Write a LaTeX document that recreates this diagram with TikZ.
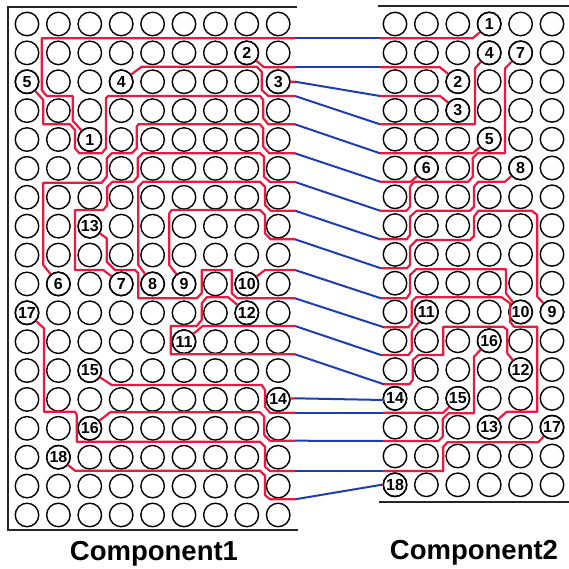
\documentclass[tikz,border=0pt]{standalone}
\usepackage{fontspec}
\setmainfont{Liberation Sans}
\definecolor{trace red}{HTML}{E9193F}
\definecolor{wire blue}{HTML}{1E3DB2}
\colorlet{frame edge}{black!85}
\tikzset{
  pad/.style={circle, draw=black, line width=1.4pt, minimum size=23.5pt, inner sep=0pt, outer sep=0.5pt},
  padnum/.style={pad, font=\fontsize{16}{16}\selectfont\bfseries},
  trace/.style={draw=trace red, line width=2.2pt, line join=round},
  wire/.style={draw=wire blue, line width=2pt},
  frame/.style={draw=frame edge, line width=1.8pt},
  title/.style={font=\fontsize{27.5}{27.5}\selectfont\bfseries}
}

\begin{document}
\begin{tikzpicture}[x=1pt, y=-1pt]
  \path[use as bounding box] (0,0) rectangle (569,569);
  % boxes
  \draw[frame] (297,7) -- (8,7) -- (8,530) -- (298,530);
  \draw[frame] (378,6) -- (569,6);
  \draw[frame] (379,502) -- (569,502);
  \node[title] (comp1) at (154,554) {Component1};
  \node[title] (comp2) at (474,553) {Component2};
  % pad grids
  \foreach \col in {0,...,8}
    \foreach \row in {0,...,17}
      \node[pad] (lgrid-\col-\row) at ({27+31.4*\col},{24+28.88*\row}) {};
  \foreach \col in {0,...,5}
    \foreach \row in {0,...,16}
      \node[pad] (rgrid-\col-\row) at ({395+31.4*\col},{24+28.8*\row}) {};
  % numbered pads
  \foreach \n/\col/\row in {1/2/4, 2/7/1, 3/8/2, 4/3/2, 5/0/2, 6/1/9, 7/3/9, 8/4/9, 9/5/9,
      10/7/9, 11/5/11, 12/7/10, 13/2/7, 14/8/13, 15/2/12, 16/2/14, 17/0/10, 18/1/15}
    \node[padnum] (lpad\n) at (lgrid-\col-\row) {\n};
  \foreach \n/\col/\row in {1/3/0, 2/2/2, 3/2/3, 4/3/1, 5/3/4, 6/1/5, 7/4/1, 8/4/5, 9/5/10,
      10/4/10, 11/1/10, 12/4/12, 13/3/14, 14/0/13, 15/2/13, 16/3/11, 17/5/14, 18/0/16}
    \node[padnum] (rpad\n) at (rgrid-\col-\row) {\n};
  % wires between the components
  \foreach \n/\ly/\rx/\ry in {1/38.3/380/38.3, 2/67.3/380/67.3, 3/81.7/380/96, 4/96/380/124.3,
      5/124.3/380/153.3, 6/153.3/380/181.7, 7/182/380/210.7, 8/210.7/380/239.3, 9/239.3/381/268.3,
      10/270/381/298.3, 11/326/381/355, 12/354.3/384/384.3, 13/298.3/384/327.3, 14/398.3/384/400,
      15/412.7/383/412.7, 16/440.7/383/441, 17/471/383/471, 18/499.3/382/484.7} {
    \coordinate (lout\n) at (295,\ly);
    \coordinate (rin\n) at (\rx,\ry);
    \draw[wire] (lout\n) -- (rin\n);
  }
  % traces in component1
  \draw[trace] (lpad1) -- (72.7,120.7) -- (72.7,96) -- (46.7,96) -- (41.7,90) -- (41.7,38.3) -- (lout1);
  \draw[trace] (lpad2) -- (264,67.3) -- (lout2);
  \draw[trace] (lpad3) -- (lout3);
  \draw[trace] (lpad4) -- (141.7,66.7) -- (256.7,66.7) -- (261.7,71.7) -- (261.7,90) -- (268.3,96) -- (lout4);
  \draw[trace] (lpad5) -- (43.3,100) -- (43.3,124.3) -- (70,124.3) -- (75,130) -- (75,148.3) -- (79.3,153.3)
    -- (101.7,153.3) -- (106,148.3) -- (106,98.3) -- (108.3,96) -- (260,96) -- (263.3,100) -- (263.3,118.3)
    -- (268.3,124.3) -- (lout5);
  \draw[trace] (lpad6) -- (43.3,265) -- (43.3,182.7) -- (101.7,182.7) -- (106.7,176.7) -- (106.7,158.3)
    -- (111.7,153.3) -- (131.7,153.3) -- (136.7,148.3) -- (136.7,126.7) -- (138.3,124.3) -- (260,124.3)
    -- (263.3,128.3) -- (263.3,146.7) -- (269.3,153.3) -- (lout6);
  \draw[trace] (lpad7) -- (103.3,270) -- (75,270) -- (75,210) -- (103.3,210) -- (107.3,205) -- (107.3,186.7)
    -- (112.7,181.7) -- (133.3,181.7) -- (137.7,176.7) -- (137.7,158.3) -- (142.7,153.3) -- (260,153.3)
    -- (264,156.7) -- (264,176.7) -- (270,182) -- (lout7);
  \draw[trace] (lpad8) -- (138.3,265) -- (138.3,186.7) -- (143.3,181.7) -- (260,181.7) -- (265,186.7)
    -- (265,205) -- (270.7,210.7) -- (lout8);
  \draw[trace] (lpad9) -- (169.3,265) -- (169.3,213.3) -- (171.7,210) -- (260,210) -- (265,215) -- (265,233.3)
    -- (270.7,239.3) -- (lout9);
  \draw[trace] (lpad10) -- (265,270) -- (lout10);
  \draw[trace] (lpad11) -- (202.7,326) -- (lout11);
  \draw[trace] (lpad12) -- (228.3,297.3) -- (206.7,297.3) -- (201.7,303.3) -- (201.7,320) -- (196.7,326)
    -- (170.7,326) -- (170.7,354.3) -- (lout12);
  \draw[trace] (lpad13) -- (106.7,238.3) -- (106.7,261.7) -- (115,270) -- (135,270) -- (138.3,273.3)
    -- (138.3,298.3) -- (196.7,298.3) -- (201.7,293.3) -- (201.7,270) -- (231.7,270) -- (231.7,293.3)
    -- (237.3,298.3) -- (lout13);
  \draw[trace] (lpad14) -- (lout14);
  \draw[trace] (lpad15) -- (111.7,385) -- (261.7,385) -- (265,390) -- (265,406.7) -- (270,412.7) -- (lout15);
  \draw[trace] (lpad16) -- (110,412.3) -- (260,412.3) -- (264.3,416.7) -- (264.3,435) -- (270,440.7) -- (lout16);
  \draw[trace] (lpad17) -- (44,328.3) -- (44,411.7) -- (75,411.7) -- (76.7,415) -- (76.7,441.7) -- (260,441.7)
    -- (265,446.7) -- (265,466.7) -- (270,471) -- (lout17);
  \draw[trace] (lpad18) -- (75,470.7) -- (260,470.7) -- (265,475.7) -- (265,495) -- (270,499.3) -- (lout18);
  % traces in component2
  \draw[trace] (rin1) -- (472.7,38.3) -- (rpad1);
  \draw[trace] (rin2) -- (440,67.3) -- (rpad2);
  \draw[trace] (rin3) -- (440,96) -- (rpad3);
  \draw[trace] (rin4) -- (475,124.3) -- (475,68.3) -- (rpad4);
  \draw[trace] (rin5) -- (472.7,153.3) -- (rpad5);
  \draw[trace] (rin6) -- (410.7,181.7) -- (rpad6);
  \draw[trace] (rin7) -- (406.7,210.7) -- (410,206.7) -- (410,186.7) -- (414,181.7) -- (468.3,181.7)
    -- (472.7,176.7) -- (472.7,158.3) -- (477.3,153.3) -- (505,153.3) -- (505,68.3) -- (rpad7);
  \draw[trace] (rin8) -- (406.7,239.3) -- (410,235) -- (410,216.7) -- (416.7,210.7) -- (470,210.7)
    -- (474,206.7) -- (474,186.7) -- (478.3,181.7) -- (505,181.7) -- (rpad8);
  \draw[trace] (rin9) -- (406.7,268.3) -- (410,265) -- (410,246.7) -- (416.7,240) -- (470,240) -- (474,236)
    -- (474,216.7) -- (478.3,210.7) -- (531.7,210.7) -- (537.3,215) -- (537.3,296.7) -- (rpad9);
  \draw[trace] (rin10) -- (406.7,298.3) -- (410,293.3) -- (410,275) -- (416,269.3) -- (506,269.3)
    -- (506,293.3) -- (rpad10);
  \draw[trace] (rin11) -- (408.3,355) -- (411.7,351) -- (411.7,331.7) -- (rpad11);
  \draw[trace] (rin12) -- (409.3,384.3) -- (412.7,380) -- (412.7,360) -- (418.3,355) -- (443.3,355)
    -- (443.3,326.7) -- (503.3,326.7) -- (507.3,330) -- (507.3,353.3) -- (rpad12);
  \draw[trace] (rin13) -- (408.3,327.3) -- (411.7,323.3) -- (411.7,301.7) -- (416,297.3) -- (501.7,297.3)
    -- (510,303.3) -- (510,321.7) -- (514,326.7) -- (537.3,326.7) -- (537.3,411.7) -- (506.7,411.7) -- (rpad13);
  \draw[trace] (rin14) -- (rpad14);
  \draw[trace] (rin15) -- (443.3,412.7) -- (rpad15);
  \draw[trace] (rin16) -- (438.3,441) -- (442.7,436.7) -- (442.7,419) -- (448.3,413.3) -- (474,413.3)
    -- (474,356.7) -- (rpad16);
  \draw[trace] (rin17) -- (443.3,471) -- (443.3,446.7) -- (447.3,442.3) -- (538.3,442.3) -- (rpad17);
  \draw[trace] (rin18) -- (rpad18);
\end{tikzpicture}
\end{document}
